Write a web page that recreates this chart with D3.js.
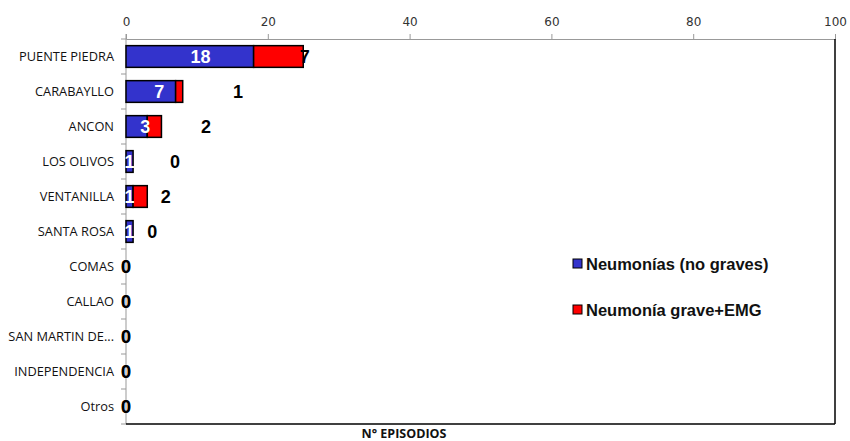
<!DOCTYPE html>
<html><head><meta charset="utf-8">
<script src="https://cdn.jsdelivr.net/npm/d3@7"></script>
<style>body{margin:0;background:#fff}svg{display:block}</style>
</head><body>
<script>
const categories = ["PUENTE PIEDRA","CARABAYLLO","ANCON","LOS OLIVOS","VENTANILLA","SANTA ROSA","COMAS","CALLAO","SAN MARTIN DE...","INDEPENDENCIA","Otros"];
const neumoniasNoGraves = [18,7,3,1,1,1,0,0,0,0,0];
const neumoniaGraveEMG = [7,1,2,0,2,0,0,0,0,0,0];
// where the (manually placed) data labels sit, in axis units
const blueLabelAt = [10.5,4.7,2.7,0.5,0.5,0.5,0,0,0,0,0];
const redLabelAt = [25.2,15.8,11.3,6.9,5.6,3.7,0,0,0,0,0];
const xTicks = [0,20,40,60,80,100];
const seriesNames = ["Neumonías (no graves)","Neumonía grave+EMG"];
const seriesColors = ["#3333CC","#FF0000"];

const W=850,H=441;
const m={left:126,right:15,top:39,bottom:17};
const svg=d3.select("body").append("svg").attr("width",W).attr("height",H);
const x=d3.scaleLinear().domain([0,100]).range([m.left,W-m.right]);
const y=d3.scaleBand().domain(categories).range([m.top,H-m.bottom]).paddingInner(0.38).paddingOuter(0.19);
const yb=d3.scaleBand().domain(categories).range([m.top,H-m.bottom]);

// top axis
const gx=svg.append("g").attr("transform",`translate(0,${m.top})`)
  .call(d3.axisTop(x).tickValues(xTicks).tickSize(5).tickPadding(8));
gx.selectAll("path,line").attr("stroke","#999");
gx.selectAll("text").attr("font-family","DejaVu Sans, Verdana, sans-serif").attr("font-size",12).attr("fill","#333");

// left axis
const gy=svg.append("g").attr("transform",`translate(${m.left},0)`)
  .call(d3.axisLeft(y).tickSize(0).tickPadding(12));
gy.select("path").remove();
gy.selectAll("text").attr("font-family","Open Sans, Liberation Sans, sans-serif").attr("font-size",12.8).attr("fill","#111");
svg.append("line").attr("x1",m.left).attr("x2",m.left).attr("y1",m.top-5).attr("y2",H-m.bottom).attr("stroke","#999");
svg.selectAll(".ytick").data(categories.concat(["__end"])).enter().append("line")
  .attr("x1",m.left-5).attr("x2",m.left)
  .attr("y1",(d,i)=> i<categories.length? yb(d): H-m.bottom)
  .attr("y2",(d,i)=> i<categories.length? yb(d): H-m.bottom)
  .attr("stroke","#999");
// right & bottom border
svg.append("line").attr("x1",x(100)).attr("x2",x(100)).attr("y1",m.top).attr("y2",H-m.bottom).attr("stroke","#000").attr("stroke-width",1.5);
svg.append("line").attr("x1",m.left).attr("x2",x(100)).attr("y1",H-m.bottom).attr("y2",H-m.bottom).attr("stroke","#000").attr("stroke-width",1.5);

// bars
const rows=categories.map((c,i)=>({c,a:neumoniasNoGraves[i],b:neumoniaGraveEMG[i],la:blueLabelAt[i],lb:redLabelAt[i]}));
const g=svg.append("g");
rows.forEach(r=>{
  if(r.a>0) g.append("rect").attr("x",x(0)).attr("y",y(r.c)).attr("width",x(r.a)-x(0)).attr("height",y.bandwidth())
    .attr("fill",seriesColors[0]).attr("stroke","#000").attr("stroke-width",1.5);
  if(r.b>0) g.append("rect").attr("x",x(r.a)).attr("y",y(r.c)).attr("width",x(r.a+r.b)-x(r.a)).attr("height",y.bandwidth())
    .attr("fill",seriesColors[1]).attr("stroke","#000").attr("stroke-width",1.5);
});
const lf="Liberation Sans Narrow, Arial Narrow, Liberation Sans, sans-serif";
rows.forEach(r=>{
  const cy=y(r.c)+y.bandwidth()/2;
  g.append("text").attr("x",x(r.la)).attr("y",cy).attr("dy","0.36em")
    .attr("text-anchor","middle").attr("font-family",lf).attr("font-weight","bold").attr("font-size",18)
    .attr("fill",r.a>0?"#fff":"#222").text(r.a);
  g.append("text").attr("x",x(r.lb)).attr("y",cy).attr("dy","0.36em")
    .attr("text-anchor","middle").attr("font-family",lf).attr("font-weight","bold").attr("font-size",18)
    .attr("fill","#000").text(r.b);
});

// axis title
svg.append("text").attr("x",404).attr("y",438).attr("text-anchor","middle")
  .attr("font-family","Open Sans, Liberation Sans, sans-serif").attr("font-weight","bold").attr("font-size",12.5).attr("fill","#111").text("N° EPISODIOS");

// legend
const lg=svg.append("g").attr("transform","translate(573,0)");
seriesNames.forEach((n,i)=>{
  const yy=264+i*46;
  lg.append("rect").attr("x",0).attr("y",yy-5).attr("width",9).attr("height",9).attr("fill",seriesColors[i]).attr("stroke","#000").attr("stroke-width",1);
  lg.append("text").attr("x",13).attr("y",yy).attr("dy","0.36em").attr("font-family","Liberation Sans, Arial, sans-serif")
    .attr("font-weight","bold").attr("font-size",16.5).attr("fill","#111").text(n);
});
</script>
</body></html>
